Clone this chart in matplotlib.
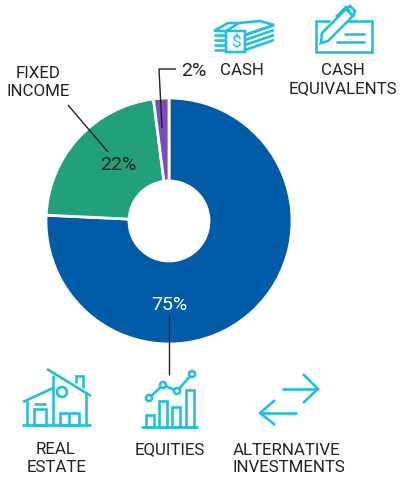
import matplotlib
matplotlib.use('Agg')
import matplotlib.pyplot as plt
from matplotlib.patches import Circle, Rectangle

plt.rcParams['font.family'] = ['Roboto', 'DejaVu Sans']

W, H = 400, 482

# data
categories = ['Equities', 'Fixed income', 'Cash equivalents']
values = [75, 22, 2]
colors = ['#015ba6', '#22a07c', '#7a4dbb']
pct_labels = ['75%', '22%', '2%']

CYAN = '#22c0dc'
DARK = '#222222'
LW = 1.9
cx, cy, radius = 169, 221, 123

fig = plt.figure(figsize=(W / 100, H / 100), dpi=100)

# donut in its own axes
ax_pie = fig.add_axes([(cx - radius) / W, 1 - (cy + radius) / H, 2 * radius / W, 2 * radius / H])
ax_pie.pie(values, colors=colors, startangle=90, counterclock=False, radius=1,
           wedgeprops=dict(width=1 - 40 / radius, edgecolor='white', linewidth=2))
ax_pie.set_xlim(-1, 1)
ax_pie.set_ylim(-1, 1)

# overlay in pixel coords for icons, labels and leader lines
ax = fig.add_axes([0, 0, 1, 1])
ax.set_xlim(0, W)
ax.set_ylim(H, 0)
ax.axis('off')
ax.patch.set_alpha(0)


def line(pts, color=CYAN, lw=LW):
    xs = [p[0] for p in pts]
    ys = [p[1] for p in pts]
    ax.plot(xs, ys, color=color, lw=lw, solid_capstyle='butt', solid_joinstyle='miter')


def label(x, y, s, color=DARK, size=12.2):
    # baseline centring keeps the caps on the pixel row
    ax.text(x, y, s, ha='center', va='center_baseline', color=color, fontsize=size)


# leader lines
line([(68, 105), (108, 152)], DARK, 1.0)
line([(176, 69), (159, 69), (162, 128)], DARK, 1.0)
line([(169, 315), (169, 375)], DARK, 1.0)

# labels
label(169.5, 303, pct_labels[0], 'white', 14)
label(118.5, 163, pct_labels[1], DARK, 14)
label(193.5, 69, pct_labels[2], DARK, 14)
label(38.5, 72, 'FIXED')
label(38.5, 90, 'INCOME')
label(242, 69, 'CASH')
label(343, 69, 'CASH')
label(342.5, 87, 'EQUIVALENTS')
label(56, 448, 'REAL')
label(57, 466, 'ESTATE')
label(170, 448, 'EQUITIES')
label(287, 449, 'ALTERNATIVE')
label(289, 466, 'INVESTMENTS')

# cash icon
line([(226, 31), (214, 31), (228, 23), (239, 23), (226, 31), (226, 52), (245, 52), (245, 31), (226, 31)])
line([(239, 23), (260, 21), (274, 25), (245, 35)])
for y in [35, 40, 45, 50]:
    line([(214, y), (226, y)])
for dy in [0, 5, 10, 15]:
    line([(245, 35 + dy), (274, 25 + dy)])
ax.text(235.5, 41.5, '$', color=CYAN, fontsize=12.5, ha='center', va='center')

# cheque icon
line([(330, 21), (316, 21), (316, 52), (372, 52), (372, 21), (348, 21)])
line([(344, 34), (365, 34)])
line([(336, 42), (365, 42)])
line([(322, 41), (321, 43), (328, 41), (353, 16), (346, 9), (322, 33), (321, 43)])
line([(345, 10), (350, 6), (355, 11), (353, 16)])
line([(336, 17), (346, 7), (350, 11)])

# real estate icon
line([(22, 425), (91, 425)])
line([(47, 369), (91, 396)])
line([(23, 402), (53, 388)])
line([(53, 375), (53, 425)])
line([(27, 401), (27, 425)])
line([(86, 393), (86, 425)])
line([(76, 383), (76, 376), (83, 376), (83, 388)])
ax.add_patch(Circle((62, 392), 5, fill=False, ec=CYAN, lw=LW))
ax.add_patch(Rectangle((34, 409), 12, 16, fill=False, ec=CYAN, lw=LW))
line([(34, 404), (46, 404)])
ax.add_patch(Rectangle((60, 413), 19, 12, fill=False, ec=CYAN, lw=LW))
line([(69, 413), (69, 425)])

# equities icon
line([(141, 427), (198, 427)])
for bx, by in [(146, 415), (159, 401), (172, 407), (186, 390)]:
    ax.add_patch(Rectangle((bx, by), 8, 427 - by, fill=False, ec=CYAN, lw=LW))
trend = [(149, 398), (163, 385), (177, 391), (192, 374)]
line(trend)
for p in trend:
    ax.add_patch(Circle(p, 3, fc='white', ec=CYAN, lw=LW, zorder=3))

# alternative investments icon
line([(282, 389), (317, 389)])
line([(303, 374), (318, 389), (303, 403)])
line([(297, 413), (260, 413)])
line([(275, 400), (260, 413), (275, 425)])

fig.savefig('out.png', dpi=100, facecolor='white')
